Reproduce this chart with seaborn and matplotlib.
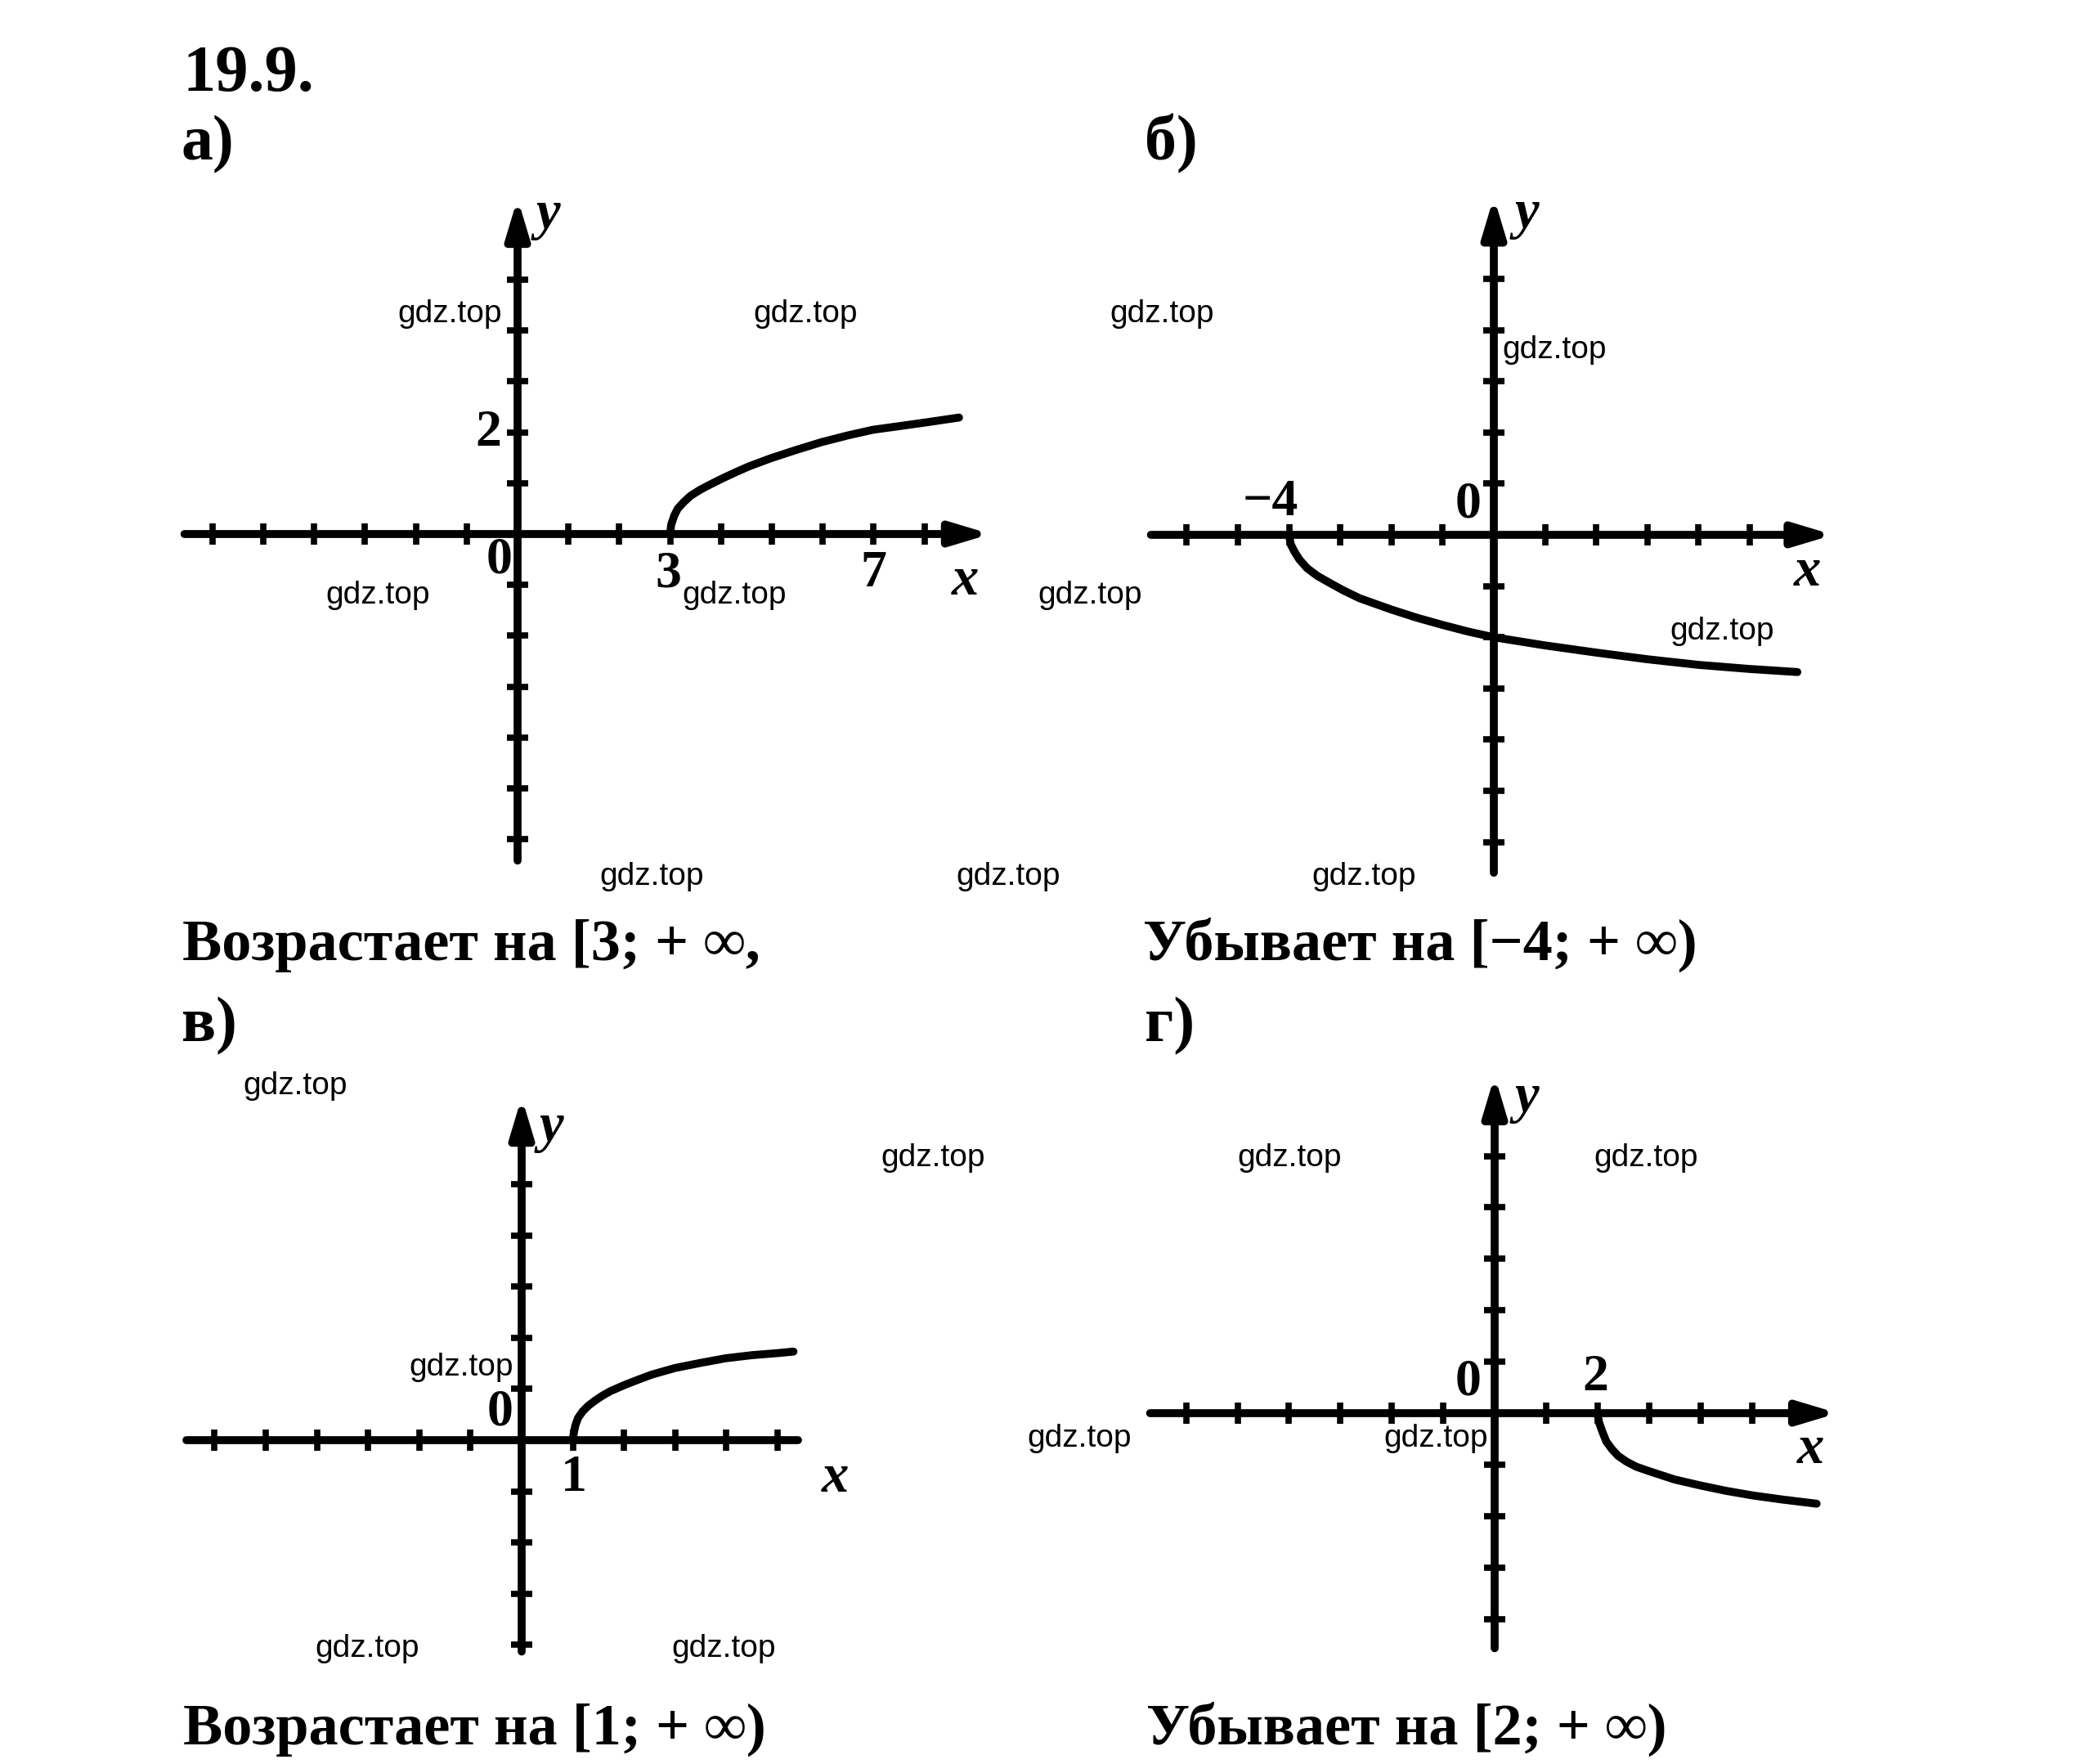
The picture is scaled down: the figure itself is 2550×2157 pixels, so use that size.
import numpy as np
import pandas as pd
import seaborn as sns
import matplotlib.pyplot as plt

W, H = 2550, 2157
DPI = 100

# =========================================================
# 1. DATA
# =========================================================
# curve points for each of the four graphs
curve_a_x = [3.0, 3.02, 3.08, 3.15, 3.27, 3.4, 3.59, 3.8, 4.02, 4.3, 4.55, 4.98,
             5.5, 5.99, 6.5, 6.99, 7.5, 8.0, 8.68]
curve_a_y = [0.0, 0.18, 0.36, 0.50, 0.63, 0.75, 0.87, 0.98, 1.09, 1.22, 1.33, 1.49,
             1.66, 1.81, 1.94, 2.05, 2.12, 2.19, 2.29]

curve_b_x = [-4.0, -3.97, -3.9, -3.8, -3.65, -3.45, -3.24, -2.95, -2.62, -2.0, -1.5,
             -1.0, -0.5, 0.0, 1.0, 2.0, 3.0, 4.0, 5.0, 5.93]
curve_b_y = [0.0, -0.18, -0.32, -0.48, -0.65, -0.80, -0.92, -1.08, -1.24, -1.46, -1.62,
             -1.76, -1.89, -2.0, -2.16, -2.30, -2.43, -2.54, -2.62, -2.68]

curve_c_x = [1.0, 1.02, 1.05, 1.1, 1.19, 1.3, 1.43, 1.58, 1.74, 2.04, 2.3, 2.54,
             3.0, 3.5, 3.99, 4.5, 5.0, 5.31]
curve_c_y = [0.0, 0.15, 0.29, 0.43, 0.56, 0.67, 0.77, 0.87, 0.96, 1.09, 1.19, 1.28,
             1.41, 1.51, 1.60, 1.66, 1.70, 1.73]

curve_d_x = [2.0, 2.03, 2.09, 2.17, 2.28, 2.4, 2.56, 2.75, 3.01, 3.5, 4.02, 4.5,
             5.02, 5.6, 6.26]
curve_d_y = [0.0, -0.18, -0.35, -0.55, -0.70, -0.83, -0.94, -1.04, -1.13, -1.29, -1.41,
             -1.51, -1.60, -1.68, -1.76]

# tick marks on the axes
x_ticks_a = [-6, -5, -4, -3, -2, -1, 1, 2, 3, 4, 5, 6, 7, 8]
y_ticks_a = [-6, -5, -4, -3, -2, -1, 1, 2, 3, 4, 5]
x_ticks_b = [-6, -5, -4, -3, -2, -1, 1, 2, 3, 4, 5]
y_ticks_b = [-6, -5, -4, -3, -2, -1, 1, 2, 3, 4, 5]
x_ticks_c = [-6, -5, -4, -3, -2, -1, 1, 2, 3, 4, 5]
y_ticks_c = [-4, -3, -2, -1, 1, 2, 3, 4, 5]
x_ticks_d = [-6, -5, -4, -3, -2, -1, 1, 2, 3, 4, 5]
y_ticks_d = [-4, -3, -2, -1, 1, 2, 3, 4, 5]

# numbers written next to the axes
labels_a = ['2', '0', '3', '7']
labels_b = ['−4', '0']
labels_c = ['0', '1']
labels_d = ['0', '2']

title = '19.9.'
panel_names = ['а)', 'б)', 'в)', 'г)']
captions = ['Возрастает на [3; + ∞,',
            'Убывает на [−4; + ∞)',
            'Возрастает на [1; + ∞)',
            'Убывает на [2; + ∞)']

# =========================================================
# 2. STYLE
# =========================================================
sns.set_theme(style="white")
plt.rcParams['font.family'] = ['Liberation Serif', 'DejaVu Serif']
plt.rcParams['text.color'] = 'black'

LW = 7
fig = plt.figure(figsize=(W / DPI, H / DPI), dpi=DPI)
fig.patch.set_facecolor('white')


def make_axes(ox, oy, unit, xlim, ylim):
    left = (ox + xlim[0] * unit) / W
    right = (ox + xlim[1] * unit) / W
    top = 1 - (oy - ylim[1] * unit) / H
    bottom = 1 - (oy - ylim[0] * unit) / H
    ax = fig.add_axes([left, bottom, right - left, top - bottom])
    ax.set_xlim(xlim)
    ax.set_ylim(ylim)
    ax.axis('off')
    return ax


def draw_frame(ax, xlim, ylim, xticks, yticks, x_arrow=True):
    head = '-|>,head_length=1.4,head_width=0.42' if x_arrow else '-'
    ax.annotate('', xy=(xlim[1], 0), xytext=(xlim[0], 0),
                arrowprops=dict(arrowstyle=head, lw=LW, color='black',
                                shrinkA=0, shrinkB=0, mutation_scale=20))
    ax.annotate('', xy=(0, ylim[1]), xytext=(0, ylim[0]),
                arrowprops=dict(arrowstyle='-|>,head_length=1.4,head_width=0.42',
                                lw=LW, color='black',
                                shrinkA=0, shrinkB=0, mutation_scale=20))
    ax.plot(xticks, [0] * len(xticks), ls='none', marker='|', ms=19, mew=5.5,
            color='black', clip_on=False)
    ax.plot([0] * len(yticks), yticks, ls='none', marker='_', ms=19, mew=5.5,
            color='black', clip_on=False)


def draw_curve(ax, xs, ys):
    df = pd.DataFrame({'x': xs, 'y': ys})
    sns.lineplot(data=df, x='x', y='y', ax=ax, color='black', lw=LW,
                 sort=False, estimator=None, legend=False,
                 solid_capstyle='round', solid_joinstyle='round', clip_on=False)
    ax.axis('off')


def num(ax, x, y, s):
    ax.text(x, y, s, fontsize=46, weight='bold', ha='center', va='center')


def var(ax, x, y, s):
    ax.text(x, y, s, fontsize=48, weight='bold', style='italic',
            ha='center', va='center')


# =========================================================
# 3. FOUR GRAPHS
# =========================================================
# а)
xl, yl = (-6.55, 9.3), (-6.42, 6.6)
ax = make_axes(633, 653, 62.2, xl, yl)
draw_frame(ax, xl, yl, x_ticks_a, y_ticks_a)
draw_curve(ax, curve_a_x, curve_a_y)
num(ax, -0.58, 1.98, labels_a[0])
num(ax, -0.36, -0.53, labels_a[1])
num(ax, 2.97, -0.79, labels_a[2])
num(ax, 7.0, -0.79, labels_a[3])
var(ax, 8.8, -0.92, 'x')
var(ax, 0.6, 6.27, 'y')

# б)
xl, yl = (-6.7, 6.63), (-6.6, 6.6)
ax = make_axes(1827, 654, 62.6, xl, yl)
draw_frame(ax, xl, yl, x_ticks_b, y_ticks_b)
draw_curve(ax, curve_b_x, curve_b_y)
num(ax, -4.36, 0.62, labels_b[0])
num(ax, -0.51, 0.58, labels_b[1])
var(ax, 6.13, -0.72, 'x')
var(ax, 0.64, 6.25, 'y')

# в)
xl, yl = (-6.55, 5.4), (-4.13, 6.7)
ax = make_axes(638, 1761, 62.6, xl, yl)
draw_frame(ax, xl, yl, x_ticks_c, y_ticks_c, x_arrow=False)
draw_curve(ax, curve_c_x, curve_c_y)
num(ax, -0.43, 0.54, labels_c[0])
num(ax, 1.02, -0.75, labels_c[1])
var(ax, 6.12, -0.75, 'x')
var(ax, 0.59, 6.1, 'y')

# г)
xl, yl = (-6.7, 6.67), (-4.57, 6.56)
ax = make_axes(1828, 1728, 62.9, xl, yl)
draw_frame(ax, xl, yl, x_ticks_d, y_ticks_d)
draw_curve(ax, curve_d_x, curve_d_y)
num(ax, -0.52, 0.59, labels_d[0])
num(ax, 1.96, 0.68, labels_d[1])
var(ax, 6.15, -0.7, 'x')
var(ax, 0.62, 6.12, 'y')

# =========================================================
# 4. TEXT AROUND THE GRAPHS
# =========================================================
def ftext(x, y, s, **kw):
    fig.text(x / W, 1 - y / H, s, **kw)


ftext(223, 111, title, fontsize=58, weight='bold', va='baseline')
for (x, y), s in zip([(222, 195), (1400, 195), (222, 1273), (1400, 1273)], panel_names):
    ftext(x, y, s, fontsize=56, weight='bold', va='baseline')
for (x, y), s in zip([(223, 1174), (1398, 1174), (224, 2133), (1402, 2133)], captions):
    ftext(x, y, s, fontsize=52, weight='bold', va='baseline')

marks = [(550, 384), (985, 384), (1421, 384), (1901, 428),
         (462, 728), (898, 728), (1333, 728), (2106, 772),
         (797, 1072), (1233, 1072), (1668, 1072),
         (361, 1328), (1141, 1416), (1577, 1416), (2013, 1416),
         (564, 1672), (1320, 1759), (1756, 1759),
         (449, 2016), (885, 2016)]
for x, y in marks:
    ftext(x, y, 'gdz.top', fontsize=28, family=['Liberation Sans', 'DejaVu Sans'],
          ha='center', va='center', color='black')

fig.savefig('out.png', dpi=DPI, facecolor='white')
